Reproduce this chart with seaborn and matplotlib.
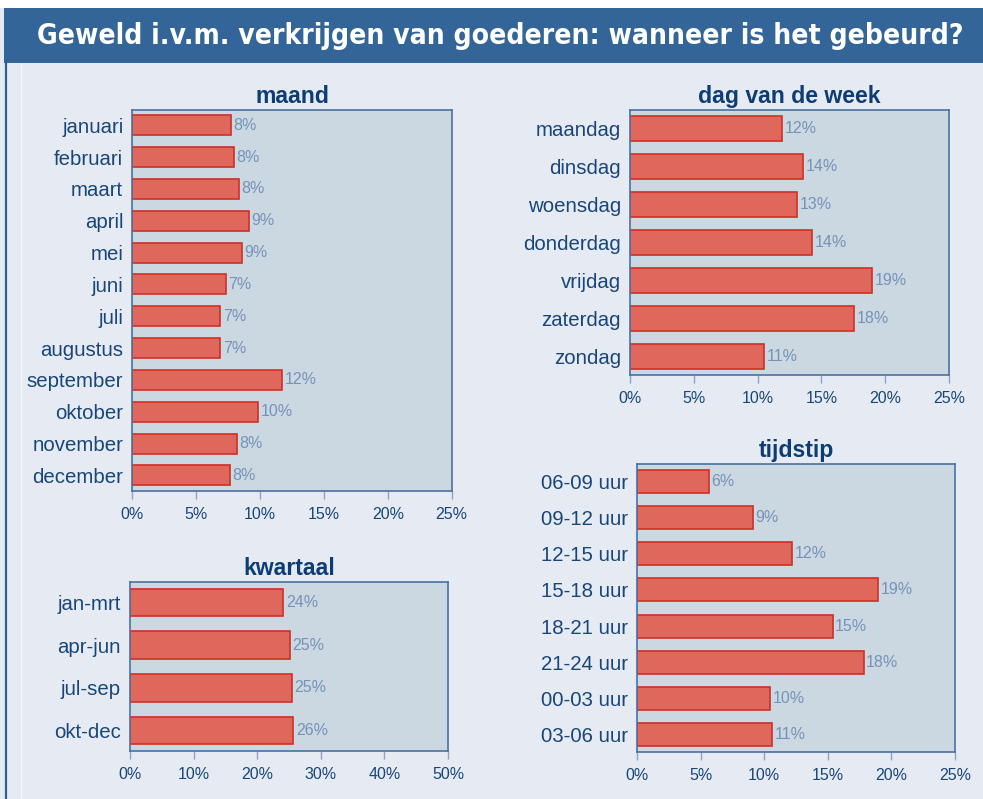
import matplotlib
matplotlib.use("Agg")
import matplotlib.pyplot as plt
import seaborn as sns
from matplotlib.patches import Rectangle
from matplotlib.lines import Line2D

# data (percentages)
maand_labels = ["januari", "februari", "maart", "april", "mei", "juni", "juli",
                "augustus", "september", "oktober", "november", "december"]
maand_values = [7.73, 7.96, 8.32, 9.13, 8.59, 7.33, 6.89, 6.89, 11.74, 9.86, 8.19, 7.65]

dag_labels = ["maandag", "dinsdag", "woensdag", "donderdag", "vrijdag", "zaterdag", "zondag"]
dag_values = [11.89, 13.58, 13.1, 14.29, 18.97, 17.58, 10.53]

kwartaal_labels = ["jan-mrt", "apr-jun", "jul-sep", "okt-dec"]
kwartaal_values = [24.1, 25.1, 25.4, 25.7]

tijd_labels = ["06-09 uur", "09-12 uur", "12-15 uur", "15-18 uur",
               "18-21 uur", "21-24 uur", "00-03 uur", "03-06 uur"]
tijd_values = [5.66, 9.12, 12.19, 18.97, 15.38, 17.82, 10.45, 10.6]

W, H = 983, 799
BG = "#e6ebf3"
AX_BG = "#cbd8e2"
BAR = "#e0675b"
BAR_EDGE = "#d12e24"
SPINE = "#4a71a0"
TICK_TXT = "#184678"
TITLE_TXT = "#0e3d74"
VAL_TXT = "#7592b8"

sns.set_style("white")
plt.rcParams["font.family"] = ["Liberation Sans", "DejaVu Sans"]

fig = plt.figure(figsize=(W / 100, H / 100), dpi=100, facecolor=BG)

# white strip at the very top, title bar below it
fig.add_artist(Rectangle((0, 1 - 8 / H), 1, 8 / H, transform=fig.transFigure,
                         facecolor="white", edgecolor="none"))
fig.add_artist(Rectangle((4 / W, 1 - 63 / H), 1 - 4 / W, 55 / H, transform=fig.transFigure,
                         facecolor="#336598", edgecolor="none"))
# frame lines on the left
fig.add_artist(Line2D([6 / W, 6 / W], [0, 1 - 60 / H], transform=fig.transFigure,
                      color="#2d5f95", lw=1.6))
fig.add_artist(Line2D([21 / W, 21 / W], [0, 1 - 63 / H], transform=fig.transFigure,
                      color="#f3f6fa", lw=0.8))

title = fig.text(37 / W, 1 - 36 / H, "Geweld i.v.m. verkrijgen van goederen: wanneer is het gebeurd?",
                 color="white", fontsize=20, fontweight="bold", family="DejaVu Sans",
                 fontstretch="condensed", ha="left", va="center")
fig.canvas.draw()
w = title.get_window_extent(fig.canvas.get_renderer()).width
title.set_fontsize(20 * 926 / w)


def px_axes(l, t, r, b):
    return fig.add_axes([l / W, 1 - b / H, (r - l) / W, (b - t) / H])


def panel(ax, labels, values, name, xmax, step, width):
    sns.barplot(x=values, y=labels, orient="h", color=BAR, saturation=1,
                edgecolor=BAR_EDGE, linewidth=1.2, width=width, ax=ax)
    ax.set_facecolor(AX_BG)
    ax.set_xlim(0, xmax)
    ax.set_ylim(len(labels) - 0.52, -0.48)
    ticks = list(range(0, xmax + 1, step))
    ax.set_xticks(ticks)
    ax.set_xticklabels([f"{t}%" for t in ticks])
    ax.set_xlabel("")
    ax.set_ylabel("")
    ax.tick_params(axis="x", length=6, width=1, color="#8aa5c5", labelsize=11.5,
                   labelcolor=TICK_TXT, pad=5.5, bottom=True)
    ax.tick_params(axis="y", length=0, labelsize=14.7, labelcolor=TICK_TXT, pad=6.5)
    for s in ax.spines.values():
        s.set_visible(True)
        s.set_color(SPINE)
        s.set_linewidth(1.2)
    for i, v in enumerate(values):
        ax.text(v + xmax * 0.008, i, f"{round(v)}%", color=VAL_TXT, fontsize=11.5,
                va="center", ha="left")
    ax.set_title(name, fontsize=16.6, fontweight="bold", color=TITLE_TXT, pad=5)


ax1 = px_axes(132.3, 110, 451.7, 490.7)
panel(ax1, maand_labels, maand_values, "maand", 25, 5, 0.63)

ax2 = px_axes(630, 110, 949, 375)
panel(ax2, dag_labels, dag_values, "dag van de week", 25, 5, 0.65)

ax3 = px_axes(130, 582, 448, 751)
panel(ax3, kwartaal_labels, kwartaal_values, "kwartaal", 50, 10, 0.65)

ax4 = px_axes(637, 464, 955, 752)
panel(ax4, tijd_labels, tijd_values, "tijdstip", 25, 5, 0.64)

fig.savefig("out.png", dpi=100, facecolor=BG)
